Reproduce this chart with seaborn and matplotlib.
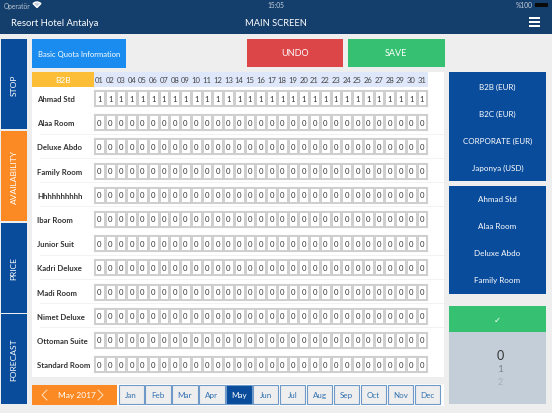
import matplotlib
matplotlib.use("Agg")
import matplotlib.pyplot as plt
from matplotlib.patches import Rectangle, Wedge
from matplotlib.colors import ListedColormap
import numpy as np
import seaborn as sns

rooms = ["Ahmad Std", "Alaa Room", "Deluxe Abdo", "Family Room", "Hhhhhhhhhh", "Ibar Room",
         "Junior Suit", "Kadri Deluxe", "Madi Room", "Nimet Deluxe", "Ottoman Suite", "Standard Room"]
days = [f"{d:02d}" for d in range(1, 32)]
row_values = [1, 0, 0, 0, 0, 0, 0, 0, 0, 0, 0, 0]
months = ["Jan", "Feb", "Mar", "Apr", "May", "Jun", "Jul", "Aug", "Sep", "Oct", "Nov", "Dec"]
tabs = ["STOP", "AVAILABILITY", "PRICE", "FORECAST"]
rates = ["B2B (EUR)", "B2C (EUR)", "CORPORATE (EUR)", "Japonya (USD)"]
side_rooms = ["Ahmad Std", "Alaa Room", "Deluxe Abdo", "Family Room"]
picker = ["0", "1", "2"]

sns.set_theme(style="white")
plt.rcParams["font.family"] = ["Lato", "DejaVu Sans"]

W, H = 552, 414
NAVY = "#143e6c"; BLUE = "#0a4c9c"; ORANGE = "#fb8a24"; GREEN = "#36c172"; RED = "#dc4648"
INK = "#333333"

fig = plt.figure(figsize=(W / 100, H / 100), dpi=100, facecolor="#eeeeee")
bg = fig.add_axes([0, 0, 1, 1])
bg.set_xlim(0, W); bg.set_ylim(H, 0); bg.axis("off")

def rect(x0, y0, x1, y1, fc, ec="none", lw=0, z=1):
    bg.add_patch(Rectangle((x0, y0), x1 - x0, y1 - y0, fc=fc, ec=ec, lw=lw, zorder=z))

def label(x, y, s, color="white", size=6.5, ha="center", **kw):
    bg.text(x, y, s, color=color, fontsize=size, ha=ha, va="center", zorder=5, **kw)

def chevron(x, y, d):
    bg.plot([x + d * 4, x - d, x + d * 4], [y - 5, y, y + 5], color="#ffd9b3", lw=0.8, zorder=5)

# header
rect(0, 0, W, 34.5, NAVY)
label(4, 6, "Operatör", color="#b8c4d2", size=4.8, ha="left")
bg.add_patch(Wedge((37, 8.5), 5.5, 225, 315, fc="#c8d2de", zorder=5))
label(276, 6, "15:05", color="#c8d2de", size=4.8)
label(533, 6, "%100", color="#c8d2de", size=4.8, ha="right")
rect(535, 3.5, 548, 8, "#0a0a0a")
label(11, 23, "Resort Hotel Antalya", size=6.8, ha="left")
label(276, 23, "MAIN SCREEN", size=6.7)
for y in (19, 23, 27):
    rect(529, y - 0.7, 540, y + 0.7, "white")

# left tabs
spans = [(40, 130), (132, 222), (224, 314), (315, 405)]
for name, (a, b) in zip(tabs, spans):
    rect(1, a, 27, b, ORANGE if name == "AVAILABILITY" else BLUE)
    label(14, (a + b) / 2, name, rotation=90, size=6.1)

# top buttons
rect(32, 40, 126, 69, "#1a8cf0")
label(79, 55, "Basic Quota Information", size=5.5)
rect(247, 40, 343, 68, RED); label(295, 54, "UNDO", size=6.5)
rect(348, 40, 445, 68, GREEN); label(396, 54, "SAVE", size=6.5)

# table panel
rect(32, 73, 444, 377.5, "white")
rect(94, 73, 428, 88, "#dfe8fb")
rect(32, 73, 94, 88, "#fbbe36"); label(63, 80.5, "B2B", size=6)

# day labels share the heatmap's column positions
x0, x1 = 94.1, 427.4
pitch = (x1 - x0) / 31
for i, d in enumerate(days):
    label(x0 + pitch * (i + .5), 80.5, d, color="#444444", size=5.5)

# room rows, one single-row heatmap each
for r, (room, v) in enumerate(zip(rooms, row_values)):
    cy = 99 + r * 24.2
    label(37, cy + 0.5, room, color=INK, size=5.6, ha="left", fontweight="bold")
    if r:
        rect(40, cy - 12.6, 444, cy - 11.8, "#f2f2f2", z=2)
    ax = fig.add_axes([x0 / W, 1 - (cy + 8) / H, (x1 - x0) / W, 16 / H], zorder=3)
    data = np.full((1, len(days)), v)
    sns.heatmap(data, ax=ax, cmap=ListedColormap(["white"]), cbar=False, annot=True, fmt="d",
                annot_kws={"color": "#333333", "fontsize": 5.6}, linewidths=0.8, linecolor="#cfcfcf",
                xticklabels=False, yticklabels=False)
    ax.patch.set_alpha(0)
    for s in ax.spines.values():
        s.set_visible(True); s.set_color("#cfcfcf"); s.set_linewidth(0.8)

# month selector
rect(32, 386, 117, 406, ORANGE)
label(76.5, 396, "May 2017", size=6)
chevron(43, 396, 1)
chevron(102, 396, -1)
rect(117, 385, 444, 407, "white")
for i, m in enumerate(months):
    mx = 118.5 + i * 26.95
    on = m == "May"
    rect(mx, 386.5, mx + 25.2, 405.5, BLUE if on else "#eeeeee", ec="#6f99c8", lw=0.8, z=2)
    label(mx + 12.6, 396, m, color="white" if on else "#2f6fb0", size=5.8)

# right column
rect(449, 73, 546, 182, BLUE)
for i, s in enumerate(rates):
    label(497.5, 87 + i * 27, s, size=5.8)
rect(449, 187, 546, 294.5, BLUE)
for i, s in enumerate(side_rooms):
    label(497.5, 200 + i * 27, s, size=5.8)
rect(449, 307, 546, 333, GREEN)
label(497.5, 320, "✓", size=6, family="DejaVu Sans")
rect(449, 333, 546, 405, "#c3ced9")
for y in (348.5, 363.5):
    rect(449, y, 546, y + 0.7, "#aeb9c6", z=2)
for s, y, fs, c in zip(picker, (356, 370, 382.5), (9, 7.5, 6.5), ("#333333", "#7e8894", "#a6afba")):
    label(500, y, s, color=c, size=fs)

fig.savefig("out.png", dpi=100, facecolor=fig.get_facecolor())
